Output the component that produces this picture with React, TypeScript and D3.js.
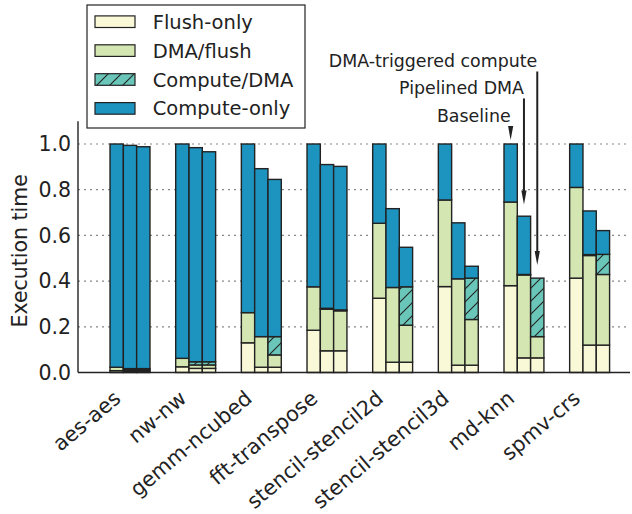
import React from "react";
import * as d3 from "d3";

const categories = ["aes-aes", "nw-nw", "gemm-ncubed", "fft-transpose", "stencil-stencil2d", "stencil-stencil3d", "md-knn", "spmv-crs"];
const configs = ["Baseline", "Pipelined DMA", "DMA-triggered compute"];
const segmentNames = ["Flush-only", "DMA/flush", "Compute/DMA", "Compute-only"];
const yTicks = [0, 0.2, 0.4, 0.6, 0.8, 1.0];

// Baseline
const baseFlush = [0.008, 0.025, 0.13, 0.185, 0.325, 0.376, 0.38, 0.413];
const baseDmaFlush = [0.015, 0.037, 0.132, 0.19, 0.328, 0.379, 0.366, 0.397];
const baseComputeDma = [0, 0, 0, 0, 0, 0, 0, 0];
const baseComputeOnly = [0.977, 0.938, 0.738, 0.625, 0.347, 0.245, 0.254, 0.19];
// Pipelined DMA
const pipeFlush = [0.005, 0.018, 0.023, 0.095, 0.045, 0.032, 0.064, 0.12];
const pipeDmaFlush = [0.006, 0.015, 0.134, 0.182, 0.327, 0.378, 0.363, 0.392];
const pipeComputeDma = [0.006, 0.014, 0, 0.004, 0, 0, 0.002, 0.004];
const pipeComputeOnly = [0.977, 0.937, 0.735, 0.629, 0.345, 0.245, 0.255, 0.191];
// DMA-triggered compute
const trigFlush = [0.005, 0.018, 0.023, 0.095, 0.045, 0.032, 0.064, 0.12];
const trigDmaFlush = [0.006, 0.015, 0.054, 0.175, 0.162, 0.2, 0.093, 0.309];
const trigComputeDma = [0.006, 0.014, 0.08, 0.004, 0.168, 0.181, 0.256, 0.088];
const trigComputeOnly = [0.971, 0.919, 0.688, 0.628, 0.173, 0.052, 0, 0.104];

// annotation (md-knn group): label levels and arrow tip values
const annotCategory = "md-knn";
const annotLabelLevel = [1.098, 1.219, 1.337];
const annotTip = [1.018, 0.735, 0.47];

const configData = [
  [baseFlush, baseDmaFlush, baseComputeDma, baseComputeOnly],
  [pipeFlush, pipeDmaFlush, pipeComputeDma, pipeComputeOnly],
  [trigFlush, trigDmaFlush, trigComputeDma, trigComputeOnly],
];

const colors = ["#f9f9d8", "#d4e6b1", "#69c6b9", "#1d93bf"];
const W = 632, H = 514;
const plotL = 78, plotR = 630, plotB = 372.5;
const FONT = "DejaVu Sans, sans-serif";

export default function App() {
  const y = d3.scaleLinear().domain([0, 1.1]).range([plotB, plotB - 1.1 * 228.5]);
  const x = d3.scaleLinear().domain([-0.792, 7.615]).range([plotL, plotR]);
  const bw = 0.2027;
  const barW = x(bw) - x(0);

  const bars: any[] = [];
  categories.forEach((cat, i) => {
    configs.forEach((cfg, k) => {
      const segs = configData[k];
      const stack = d3.cumsum(segs.map((s) => s[i]));
      const x0 = x(i + (k - 1.5) * bw);
      segs.forEach((s, j) => {
        const v = s[i];
        if (v <= 0) return;
        const top = stack[j];
        const bottom = top - v;
        bars.push(
          <rect key={`${i}-${k}-${j}`} x={x0} y={y(top)} width={barW} height={y(bottom) - y(top)}
            fill={j === 2 ? "url(#hatch)" : colors[j]} stroke="#222" strokeWidth={1.4} />
        );
      });
    });
  });

  const ai = categories.indexOf(annotCategory);
  const arrows = configs.map((cfg, k) => {
    const cx = x(ai + (k - 1) * bw);
    const ty = y(annotLabelLevel[k]);
    const sy = ty + 4.5;
    const tip = y(annotTip[k]);
    const headL = 14, headW = 2.6;
    const hb = Math.max(sy, tip - headL);
    return (
      <g key={cfg}>
        <text x={cx} y={ty} textAnchor="end" fontSize={17.4} fontFamily={FONT} fill="#222">{cfg}</text>
        {hb > sy && <line x1={cx} y1={sy} x2={cx} y2={hb + 1} stroke="#222" strokeWidth={2} />}
        <path d={`M${cx - headW},${hb} L${cx + headW},${hb} L${cx},${tip} Z`} fill="#222" />
      </g>
    );
  });

  return (
    <svg width={W} height={H} style={{ position: "absolute", left: 0, top: 0 }} fontFamily={FONT}>
      <defs>
        <pattern id="hatch" patternUnits="userSpaceOnUse" width={13} height={13}>
          <rect width={13} height={13} fill={colors[2]} />
          <path d="M-1,14 L14,-1 M-4,4 L4,-4 M9,17 L17,9" stroke="#222" strokeWidth={1.1} />
        </pattern>
      </defs>
      <rect width={W} height={H} fill="#fff" />
      {yTicks.filter((t) => t > 0).map((t) => (
        <line key={t} x1={plotL} x2={plotR} y1={y(t)} y2={y(t)} stroke="#888" strokeWidth={1.2} strokeDasharray="2,4" />
      ))}
      {bars}
      <line x1={plotL} x2={plotL} y1={y(1.1)} y2={plotB} stroke="#222" strokeWidth={1.4} />
      <line x1={plotL} x2={plotR} y1={plotB} y2={plotB} stroke="#222" strokeWidth={1.4} />
      {yTicks.map((t) => (
        <text key={t} x={plotL - 7} y={y(t)} dy="0.36em" textAnchor="end" fontSize={20.5} fill="#222">{t.toFixed(1)}</text>
      ))}
      <text transform={`translate(27,${(y(1.1) + plotB) / 2 + 4}) rotate(-90)`} textAnchor="middle" fontSize={20.5} fill="#222">Execution time</text>
      {categories.map((c, i) => (
        <text key={c} transform={`translate(${x(i) - 8},${plotB + 28}) rotate(-40)`} textAnchor="end" fontSize={20.8} fill="#222">{c}</text>
      ))}
      {arrows}
      <g>
        <rect x={87} y={5} width={218} height={123} fill="#fff" stroke="#222" strokeWidth={1.2} />
        {segmentNames.map((n, j) => {
          const cy = 21.7 + j * 28.9;
          return (
            <g key={n}>
              <rect x={95} y={cy - 5.8} width={40} height={11.6} fill={j === 2 ? "url(#hatch)" : colors[j]} stroke="#222" strokeWidth={1.2} />
              <text x={152.7} y={cy} dy="0.36em" fontSize={19.5} fill="#222">{n}</text>
            </g>
          );
        })}
      </g>
    </svg>
  );
}
